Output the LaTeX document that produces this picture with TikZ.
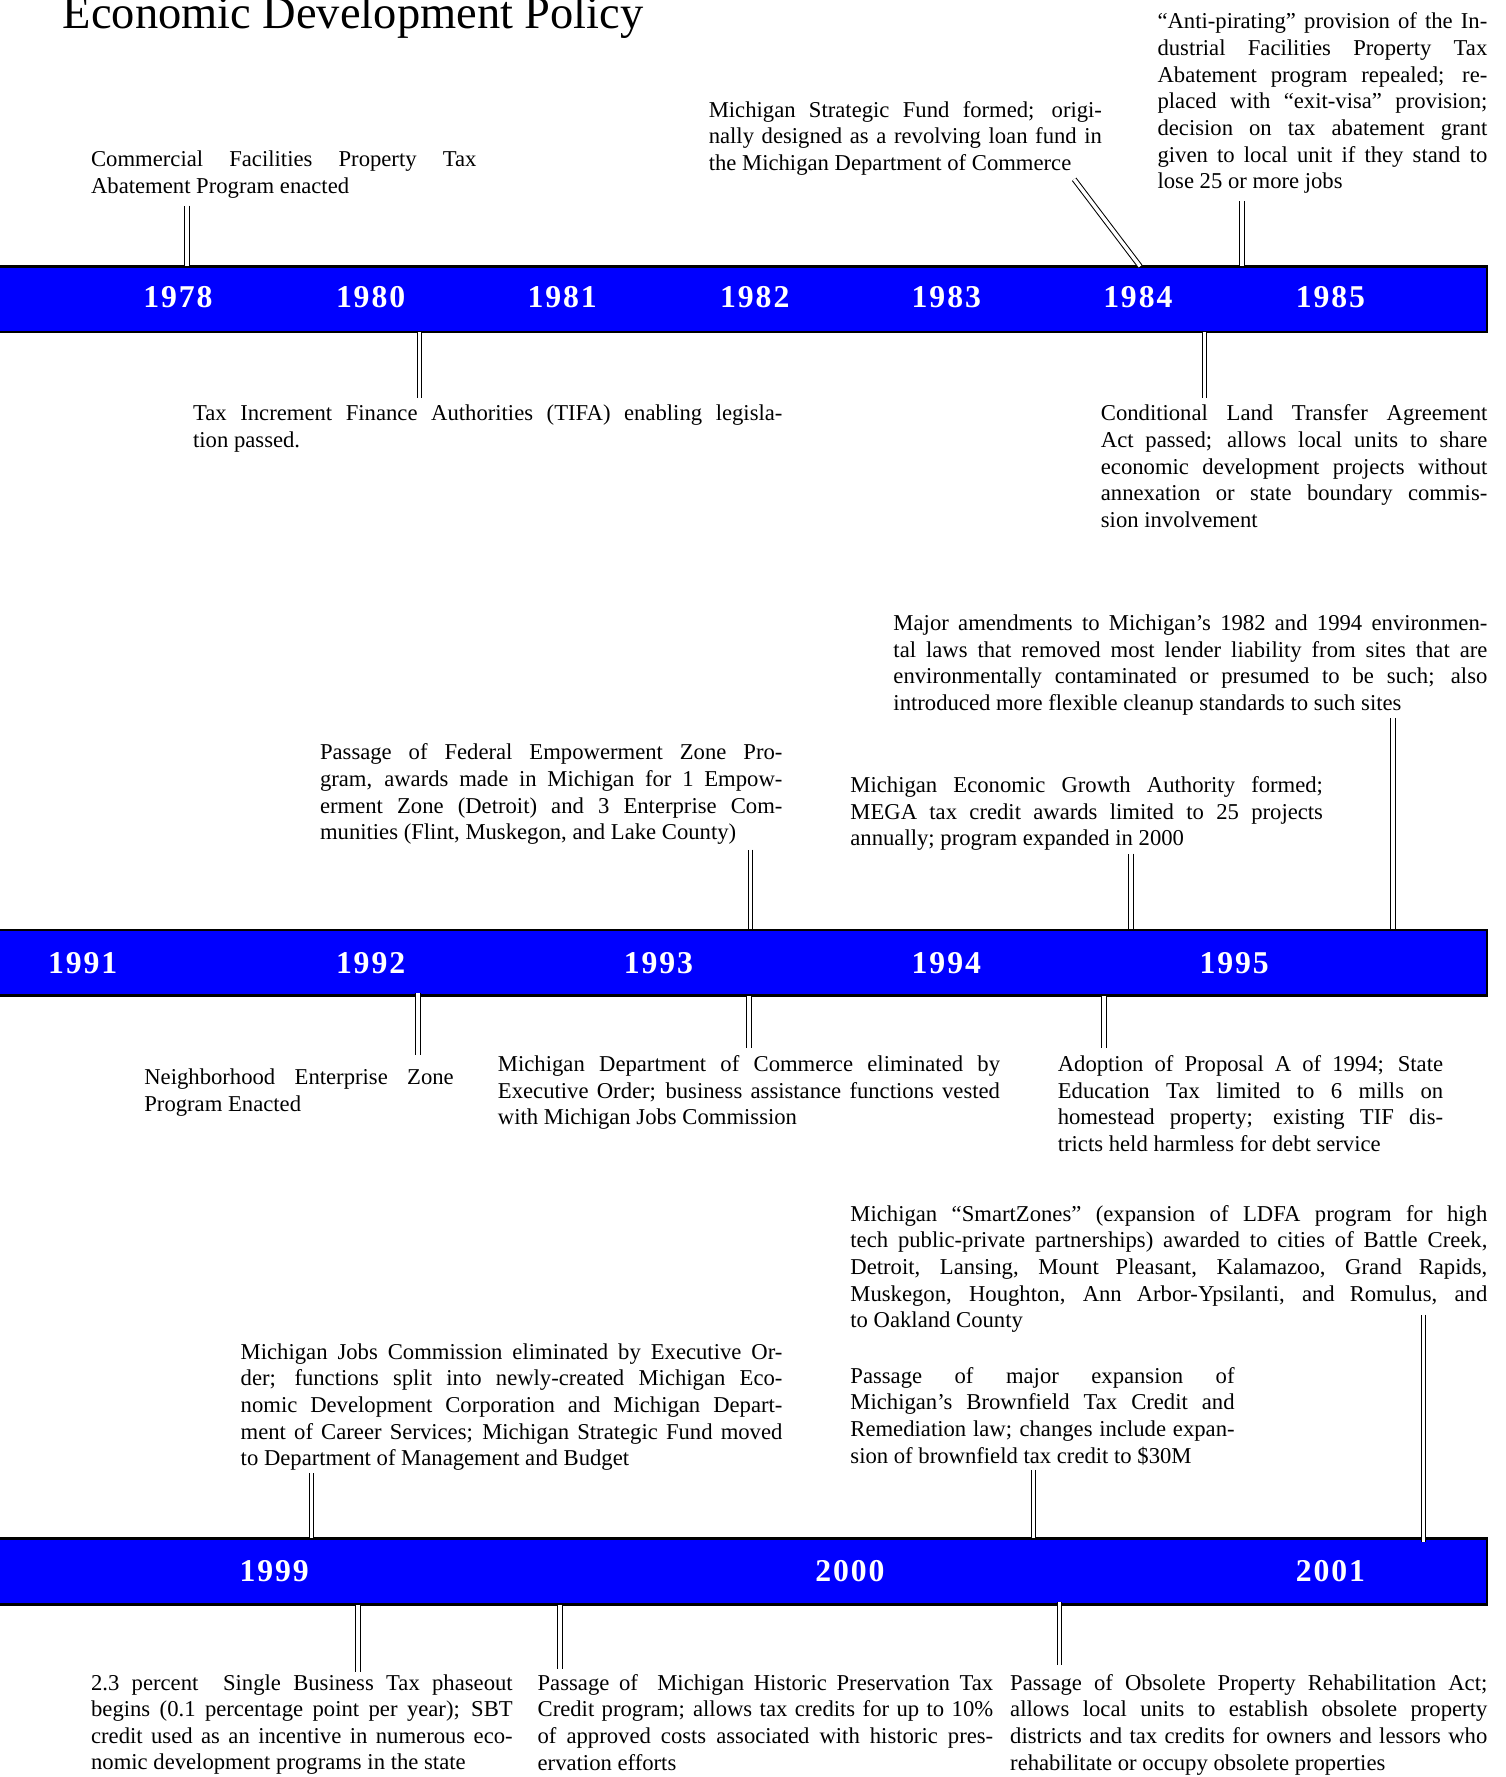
\documentclass[tikz,border=0pt]{standalone}
\usepackage{fontspec}
\setmainfont{Liberation Serif}
\hyphenpenalty=10000
\exhyphenpenalty=10000
\tolerance=9999

\begin{document}
\begin{tikzpicture}[x=0.5pt,y=-0.5pt]
    \tikzstyle{bar}=[draw=black,line width=1.2pt,fill=blue,minimum width=666pt,minimum height=29pt,inner sep=0pt,outer sep=0pt]
    \tikzstyle{year}=[text=white,inner sep=0pt,font=\fontsize{14}{16}\selectfont\bfseries\addfontfeature{LetterSpace=6}]
    \tikzstyle{event}=[anchor=north west,inner sep=0pt,align=justify,font=\fontsize{10}{11.75}\selectfont]
    \tikzstyle{link}=[double,double distance=1.5pt,line width=0.45pt]
    \useasboundingbox (0,0) rectangle (1328,1568);

    \node (title)[anchor=base west,inner sep=0pt,font=\fontsize{20.5}{24}\selectfont] at (55,25) {Economic Development Policy};

    \node (bar1)[bar] at (646,264) {};
    \node (bar2)[bar] at (646,849.5) {};
    \node (bar3)[bar] at (646,1386.5) {};

    \node (y1978)[year] at (157,262) {1978};
    \node (y1980)[year] at (327,262) {1980};
    \node (y1981)[year] at (496,262) {1981};
    \node (y1982)[year] at (666,262) {1982};
    \node (y1983)[year] at (835,262) {1983};
    \node (y1984)[year] at (1004,262) {1984};
    \node (y1985)[year] at (1174,262) {1985};
    \node (y1991)[year] at (73,850) {1991};
    \node (y1992)[year] at (327,850) {1992};
    \node (y1993)[year] at (581,850) {1993};
    \node (y1994)[year] at (835,850) {1994};
    \node (y1995)[year] at (1089,850) {1995};
    \node (y1999)[year] at (242,1386) {1999};
    \node (y2000)[year] at (750,1386) {2000};
    \node (y2001)[year] at (1174,1386) {2001};

    \node (cfpta)[event,text width=170pt] at (80,133) {Commercial Facilities Property Tax\linebreak Abatement Program enacted};
    \node (tifa)[event,text width=260pt] at (170,357) {Tax Increment Finance Authorities (TIFA) enabling legisla-\linebreak tion passed.};
    \node (msf)[event,text width=173.5pt] at (625,89) {Michigan Strategic Fund formed; origi-\linebreak nally designed as a revolving loan fund in\linebreak the Michigan Department of Commerce\parfillskip=0pt};
    \node (antipir)[event,text width=145.5pt] at (1021,11) {“Anti-pirating” provision of the In-\linebreak dustrial Facilities Property Tax\linebreak Abatement program repealed; re-\linebreak placed with “exit-visa” provision;\linebreak decision on tax abatement grant\linebreak given to local unit if they stand to\linebreak lose 25 or more jobs};
    \node (cltaa)[event,text width=170.5pt] at (971,357) {Conditional Land Transfer Agreement\linebreak Act passed; allows local units to share\linebreak economic development projects without\linebreak annexation or state boundary commis-\linebreak sion involvement};

    \node (amend)[event,text width=262pt] at (788,542) {Major amendments to Michigan’s 1982 and 1994 environmen-\linebreak tal laws that removed most lender liability from sites that are\linebreak environmentally contaminated or presumed to be such; also\linebreak introduced more flexible cleanup standards to such sites};
    \node (fedez)[event,text width=204pt] at (282,656) {Passage of Federal Empowerment Zone Pro-\linebreak gram, awards made in Michigan for 1 Empow-\linebreak erment Zone (Detroit) and 3 Enterprise Com-\linebreak munities (Flint, Muskegon, and Lake County)};
    \node (mega)[event,text width=208.5pt] at (750,685) {Michigan Economic Growth Authority formed;\linebreak MEGA tax credit awards limited to 25 projects\linebreak annually; program expanded in 2000};
    \node (nez)[event,text width=136.5pt] at (127,943) {Neighborhood Enterprise Zone\linebreak Program Enacted};
    \node (mdoc)[event,text width=221.5pt] at (439,931) {Michigan Department of Commerce eliminated by\linebreak Executive Order; business assistance functions vested\linebreak with Michigan Jobs Commission};
    \node (propa)[event,text width=170pt] at (933,931) {Adoption of Proposal A of 1994; State\linebreak Education Tax limited to 6 mills on\linebreak homestead property; existing TIF dis-\linebreak tricts held harmless for debt service};

    \node (smartz)[event,text width=281pt] at (750,1063) {Michigan “SmartZones” (expansion of LDFA program for high\linebreak tech public-private partnerships) awarded to cities of Battle Creek,\linebreak Detroit, Lansing, Mount Pleasant, Kalamazoo, Grand Rapids,\linebreak Muskegon, Houghton, Ann Arbor-Ypsilanti, and Romulus, and\linebreak to Oakland County};
    \node (brownf)[event,text width=169.5pt] at (750,1206) {Passage of major expansion of\linebreak Michigan’s Brownfield Tax Credit and\linebreak Remediation law; changes include expan-\linebreak sion of brownfield tax credit to \$30M};
    \node (mjc)[event,text width=239pt] at (212,1185) {Michigan Jobs Commission eliminated by Executive Or-\linebreak der; functions split into newly-created Michigan Eco-\linebreak nomic Development Corporation and Michigan Depart-\linebreak ment of Career Services; Michigan Strategic Fund moved\linebreak to Department of Management and Budget};
    \node (sbt)[event,text width=186pt] at (80,1477) {2.3 percent~ Single Business Tax phaseout\linebreak begins (0.1 percentage point per year); SBT\linebreak credit used as an incentive in numerous eco-\linebreak nomic development programs in the state};
    \node (histp)[event,text width=201pt] at (474,1477) {Passage of~ Michigan Historic Preservation Tax\linebreak Credit program; allows tax credits for up to 10\%\linebreak of approved costs associated with historic pres-\linebreak ervation efforts};
    \node (opra)[event,text width=210.5pt] at (891,1477) {Passage of Obsolete Property Rehabilitation Act;\linebreak allows local units to establish obsolete property\linebreak districts and tax credits for owners and lessors who\linebreak rehabilitate or occupy obsolete properties};

    \coordinate (k1) at (165,235);
    \coordinate (k2) at (370,293);
    \coordinate (k3) at (1006,235);
    \coordinate (k4) at (1096,235);
    \coordinate (k5) at (1063,293);
    \coordinate (k6) at (1229,820);
    \coordinate (k7) at (662,820);
    \coordinate (k8) at (998,820);
    \coordinate (k9) at (369,876);
    \coordinate (k10) at (661,879);
    \coordinate (k11) at (974,879);
    \coordinate (k12) at (275,1357);
    \coordinate (k13) at (1256,1361);
    \coordinate (k14) at (912,1357);
    \coordinate (k15) at (316,1416);
    \coordinate (k16) at (494,1416);
    \coordinate (k17) at (935,1414);

    \draw[link] ([yshift=-3pt]cfpta.south -| k1) -- (k1);
    \draw[link] (k2) -- ([yshift=3pt]tifa.north -| k2);
    \draw[link] ([xshift=-12.5pt,yshift=-1.5pt]msf.south east) -- (k3);
    \draw[link] ([yshift=-3pt]antipir.south -| k4) -- (k4);
    \draw[link] (k5) -- ([yshift=3pt]cltaa.north -| k5);
    \draw[link] ([yshift=-1pt]amend.south -| k6) -- (k6);
    \draw[link] ([yshift=-2pt]fedez.south -| k7) -- (k7);
    \draw[link] ([yshift=-1pt]mega.south -| k8) -- (k8);
    \draw[link] (k9) -- ([yshift=6pt]nez.north -| k9);
    \draw[link] (k10) -- ([yshift=3pt]mdoc.north -| k10);
    \draw[link] (k11) -- ([yshift=3pt]propa.north -| k11);
    \draw[link] ([yshift=-1pt]mjc.south -| k12) -- (k12);
    \draw[link] ([yshift=8pt]smartz.south -| k13) -- (k13);
    \draw[link] ([yshift=-2pt]brownf.south -| k14) -- (k14);
    \draw[link] (k15) -- ([yshift=1pt]sbt.north -| k15);
    \draw[link] (k16) -- ([yshift=2pt]histp.north -| k16);
    \draw[link] (k17) -- ([yshift=4pt]opra.north -| k17);
\end{tikzpicture}
\end{document}
